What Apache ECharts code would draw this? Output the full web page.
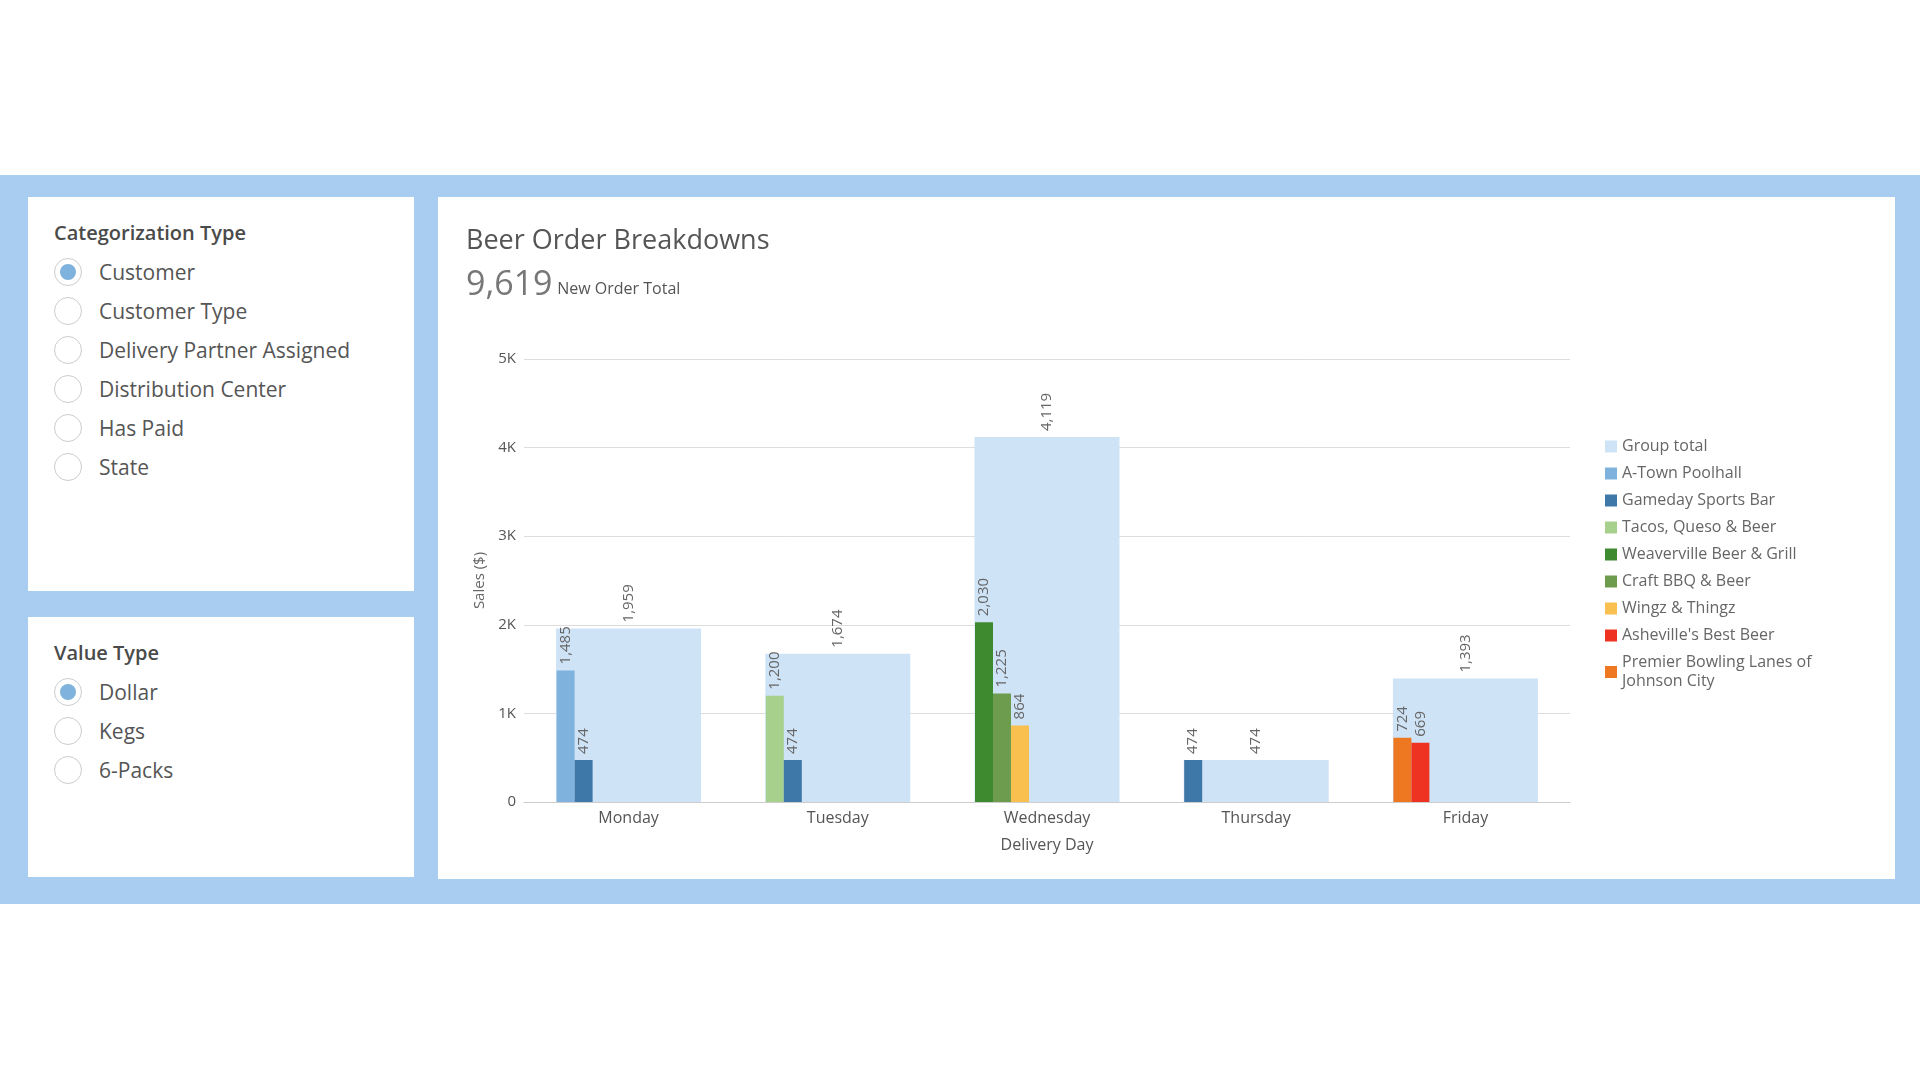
<!DOCTYPE html>
<html><head><meta charset="utf-8">
<script src="https://cdn.jsdelivr.net/npm/echarts@6/dist/echarts.min.js"></script>
<style>
html,body{margin:0;width:1920px;height:1080px;background:#fff;font-family:"Open Sans",sans-serif;overflow:hidden;position:relative}
.band{position:absolute;left:0;top:175px;width:1920px;height:729px;background:#a8cdf0}
.panel{position:absolute;background:#fff}
.h{position:absolute;font-size:20px;font-weight:600;color:#4a4a4a}
.r{position:absolute;font-size:21px;color:#555;height:28px;line-height:28px}
.r i{position:absolute;left:-45px;top:0;width:26px;height:26px;border:1px solid #ccc;border-radius:50%;background:#fff}
.r i.on::after{content:"";position:absolute;left:5px;top:5px;width:16px;height:16px;border-radius:50%;background:#7fb2dc}
#c{position:absolute;left:0;top:0;width:1920px;height:1080px}
</style></head><body>
<div class="band"></div>
<div class="panel" style="left:28px;top:197px;width:386px;height:394px"></div>
<div class="panel" style="left:28px;top:617px;width:386px;height:260px"></div>
<div class="panel" style="left:438px;top:197px;width:1457px;height:682px"></div>
<div class="h" style="left:54px;top:219px">Categorization Type</div>
<div id="r1"></div>
<div class="h" style="left:54px;top:639px">Value Type</div>
<div id="c"></div>
<script>
var days=['Monday','Tuesday','Wednesday','Thursday','Friday'];
var groupTotal=[1959,1674,4119,474,1393];
var customers=['A-Town Poolhall','Gameday Sports Bar','Tacos, Queso & Beer','Weaverville Beer & Grill','Craft BBQ & Beer','Wingz & Thingz',"Asheville's Best Beer",'Premier Bowling Lanes of\nJohnson City'];
var colors=['#7fb2dc','#3d78a8','#a8d08d','#3e8a2f','#6e9c4f','#f9bf4f','#ee3322','#ee7722'];
var slotCust=[[0,2,3,1,7],[1,1,4,null,6],[null,null,5,null,null]];
var slotVal=[[1485,1200,2030,474,724],[474,474,1225,null,669],[null,null,864,null,null]];
var cat1=['Customer','Customer Type','Delivery Partner Assigned','Distribution Center','Has Paid','State'];
var cat2=['Dollar','Kegs','6-Packs'];

var html='';
cat1.forEach(function(t,i){html+='<div class="r" style="left:99px;top:'+(258+i*39)+'px"><i class="'+(i==0?'on':'')+'"></i>'+t+'</div>';});
cat2.forEach(function(t,i){html+='<div class="r" style="left:99px;top:'+(678+i*39)+'px"><i class="'+(i==0?'on':'')+'"></i>'+t+'</div>';});
document.getElementById('r1').innerHTML=html;

var fmt=function(p){return p.value==null?'':p.value.toLocaleString('en-US');};
var lbl={show:true,position:'top',rotate:90,align:'left',verticalAlign:'middle',distance:6,color:'#666',fontSize:15,formatter:fmt};
var series=[{name:'Group total',type:'bar',xAxisIndex:0,data:groupTotal,barWidth:145,itemStyle:{color:'#cfe3f7'},label:lbl,z:1}];
for(var s=0;s<3;s++){
  series.push({name:'slot'+s,type:'bar',xAxisIndex:1,barWidth:18,barGap:0,z:3,label:lbl,
    data:slotVal[s].map(function(v,d){return v==null?null:{value:v,itemStyle:{color:colors[slotCust[s][d]]}};})});
}
for(var f=0;f<5;f++) series.push({name:'f'+f,type:'bar',xAxisIndex:1,barWidth:18,barGap:0,data:[]});
customers.forEach(function(n,i){series.push({name:n,type:'line',data:[],itemStyle:{color:colors[i]},lineStyle:{color:colors[i]}});});

var chart=echarts.init(document.getElementById('c'));
chart.setOption({
  animation:false,
  textStyle:{fontFamily:'Open Sans'},
  title:[{text:'Beer Order Breakdowns',left:461,top:223,textStyle:{fontSize:27,fontWeight:'normal',color:'#555',fontFamily:'Open Sans'}},
         {text:'{a|9,619} {b|New Order Total}',left:461,top:263,textStyle:{fontWeight:'normal',rich:{a:{fontSize:34,color:'#777',fontWeight:'normal',fontFamily:'Open Sans'},b:{fontSize:16,color:'#555',fontWeight:'normal',fontFamily:'Open Sans',padding:[8,0,0,0]}}}}],
  legend:{orient:'vertical',left:1600,top:432,itemWidth:12,itemHeight:12,itemGap:8,icon:'rect',
    textStyle:{fontSize:16,color:'#666',lineHeight:19,fontFamily:'Open Sans'},
    data:['Group total'].concat(customers).map(function(n,i){return {name:n,itemStyle:{color:i==0?'#cfe3f7':colors[i-1]}};})},
  grid:{left:524,right:350,top:359,bottom:278},
  xAxis:[{type:'category',data:days,axisTick:{show:false},axisLine:{lineStyle:{color:'#ccc'}},
    axisLabel:{color:'#555',fontSize:16},name:'Delivery Day',nameLocation:'middle',nameGap:35,nameTextStyle:{color:'#555',fontSize:16}},
    {type:'category',data:days,show:false}],
  yAxis:{type:'value',min:0,max:5000,interval:1000,axisLabel:{color:'#555',fontSize:15,formatter:function(v){return v==0?'0':v/1000+'K';}},
    splitLine:{lineStyle:{color:'#ddd'}},name:'Sales ($)',nameLocation:'middle',nameGap:33,nameTextStyle:{color:'#666',fontSize:15}},
  series:series
});
</script></body></html>
